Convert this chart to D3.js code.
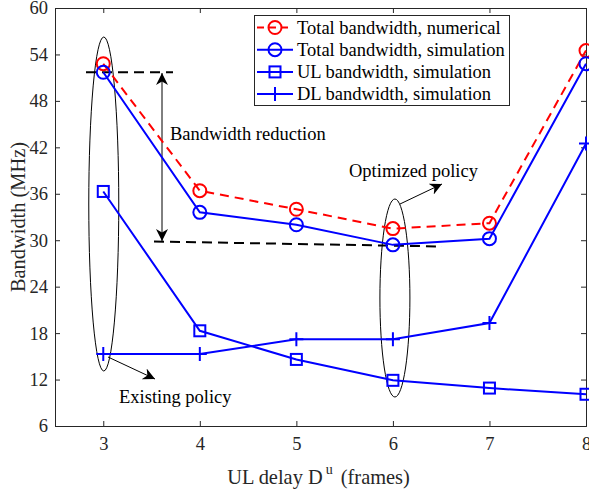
<!DOCTYPE html>
<html><head><meta charset="utf-8">
<script src="https://cdn.jsdelivr.net/npm/d3@7"></script>
<style>body{margin:0;background:#fff}svg{display:block}text{font-family:"Liberation Serif","Times New Roman",serif}</style>
</head><body><svg id="c" width="589" height="491"></svg>
<script>
const delays = [3, 4, 5, 6, 7, 8];
const totalNumerical = [52.8, 36.4, 34.0, 31.5, 32.2, 54.5];
const totalSimulation = [51.7, 33.6, 32.0, 29.4, 30.2, 52.8];
const ulSimulation = [36.3, 18.3, 14.6, 11.9, 10.9, 10.1];
const dlSimulation = [15.3, 15.3, 17.2, 17.2, 19.3, 42.5];
const yTicks = [6, 12, 18, 24, 30, 36, 42, 48, 54, 60];
const xTicks = [3, 4, 5, 6, 7, 8];
const legendLabels = ["Total bandwidth, numerical", "Total bandwidth, simulation", "UL bandwidth, simulation", "DL bandwidth, simulation"];

const svg = d3.select("#c");
const L = 55, R = 586, T = 8, B = 426;
const x = d3.scaleLinear().domain([2.5, 8]).range([L, R]);
const y = d3.scaleLinear().domain([6, 60]).range([B, T]);
const axisCol = "#262626";
const FS = "18.5px", LFS = "20.4px";

// defs arrow
const defs = svg.append("defs");
defs.append("marker").attr("id", "ah").attr("viewBox", "0 0 10 10").attr("refX", 10).attr("refY", 5)
  .attr("markerWidth", 12).attr("markerHeight", 12).attr("markerUnits", "userSpaceOnUse").attr("orient", "auto-start-reverse")
  .append("path").attr("d", "M0,0 L10,5 L0,10 L3,5 Z").attr("fill", "#000");

// axes
const gx = svg.append("g").attr("transform", `translate(0,${B})`)
  .call(d3.axisBottom(x).tickValues(xTicks).tickSize(-5).tickPadding(11).tickFormat(d3.format("d")));
const gxt = svg.append("g").attr("transform", `translate(0,${T})`)
  .call(d3.axisTop(x).tickValues(xTicks).tickSize(-5).tickFormat(""));
const gy = svg.append("g").attr("transform", `translate(${L},0)`)
  .call(d3.axisLeft(y).tickValues(yTicks).tickSize(-5).tickPadding(7).tickFormat(d3.format("d")));
const gyr = svg.append("g").attr("transform", `translate(${R},0)`)
  .call(d3.axisRight(y).tickValues(yTicks).tickSize(-5).tickFormat(""));
[gx, gxt, gy, gyr].forEach(g => {
  g.select(".domain").attr("stroke", axisCol).attr("stroke-width", 1);
  g.selectAll(".tick line").attr("stroke", axisCol);
  g.selectAll("text").attr("fill", axisCol).style("font-size", FS).style("font-family", '"Liberation Serif",serif');
});

// axis labels
svg.append("text").attr("transform", `translate(25,${(T + B) / 2}) rotate(-90)`).attr("text-anchor", "middle")
  .style("font-size", LFS).attr("fill", axisCol).text("Bandwidth (MHz)");
const xl = svg.append("text").attr("x", (L + R) / 2 - 2).attr("y", 484).attr("text-anchor", "middle")
  .style("font-size", LFS).attr("fill", axisCol);
xl.append("tspan").text("UL delay D");
xl.append("tspan").attr("dx", 3).attr("dy", -10).style("font-size", "14px").text("u");
xl.append("tspan").attr("dx", 3).attr("dy", 10).text(" (frames)");

// annotations: ellipses
function ellipse(cx, cy, rx, ry) {
  svg.append("ellipse").attr("cx", cx).attr("cy", cy).attr("rx", rx).attr("ry", ry)
    .attr("fill", "none").attr("stroke", "#000").attr("stroke-width", 1);
}
ellipse(x(3) + 0.5, 204, 15, 167);
ellipse(x(6) + 2, 298, 15, 99);

// dashed reference lines
svg.append("line").attr("x1", 86).attr("y1", y(51.7)).attr("x2", 173).attr("y2", y(51.7))
  .attr("stroke", "#000").attr("stroke-width", 2).attr("stroke-dasharray", "10,6");
svg.append("line").attr("x1", 154).attr("y1", 241.5).attr("x2", 442).attr("y2", 246.5)
  .attr("stroke", "#000").attr("stroke-width", 2).attr("stroke-dasharray", "10,6");

// double arrow
svg.append("line").attr("x1", 162).attr("y1", 73).attr("x2", 162).attr("y2", 241)
  .attr("stroke", "#000").attr("stroke-width", 1)
  .attr("marker-start", "url(#ah)").attr("marker-end", "url(#ah)");
// other arrows
svg.append("line").attr("x1", 400).attr("y1", 204).attr("x2", 442).attr("y2", 184)
  .attr("stroke", "#000").attr("stroke-width", 1).attr("marker-end", "url(#ah)");
svg.append("line").attr("x1", 108).attr("y1", 357).attr("x2", 155).attr("y2", 379)
  .attr("stroke", "#000").attr("stroke-width", 1).attr("marker-end", "url(#ah)");

svg.append("text").attr("x", 170).attr("y", 140).style("font-size", FS).attr("fill", "#000").text("Bandwidth reduction");
svg.append("text").attr("x", 349).attr("y", 177).style("font-size", FS).attr("fill", "#000").text("Optimized policy");
svg.append("text").attr("x", 119).attr("y", 403).style("font-size", FS).attr("fill", "#000").text("Existing policy");

// series
const series = [
  {vals: totalNumerical, color: "#ff0000", dash: "9,6", marker: "circle"},
  {vals: totalSimulation, color: "#0000ff", dash: null, marker: "circle"},
  {vals: ulSimulation, color: "#0000ff", dash: null, marker: "square"},
  {vals: dlSimulation, color: "#0000ff", dash: null, marker: "plus"}
];
const line = d3.line().x(d => x(d[0])).y(d => y(d[1]));
function drawMarker(g, type, cx, cy, color) {
  if (type === "circle") g.append("circle").attr("cx", cx).attr("cy", cy).attr("r", 6.5).attr("fill", "none").attr("stroke", color).attr("stroke-width", 2);
  else if (type === "square") g.append("rect").attr("x", cx - 5.5).attr("y", cy - 5.5).attr("width", 11).attr("height", 11).attr("fill", "none").attr("stroke", color).attr("stroke-width", 2);
  else g.append("path").attr("d", `M${cx - 7},${cy}H${cx + 7}M${cx},${cy - 7}V${cy + 7}`).attr("stroke", color).attr("stroke-width", 2);
}
series.forEach(s => {
  const pts = delays.map((d, i) => [d, s.vals[i]]);
  svg.append("path").datum(pts).attr("d", line).attr("fill", "none").attr("stroke", s.color).attr("stroke-width", 2)
    .attr("stroke-dasharray", s.dash);
  const g = svg.append("g");
  pts.forEach(p => drawMarker(g, s.marker, x(p[0]), y(p[1]), s.color));
});

// legend
const lg = svg.append("g");
lg.append("rect").attr("x", 254.5).attr("y", 15.5).attr("width", 255).attr("height", 90).attr("fill", "#fff").attr("stroke", axisCol).attr("stroke-width", 1);
legendLabels.forEach((lab, i) => {
  const cy = 27.5 + i * 22.2;
  const s = series[i];
  lg.append("line").attr("x1", 257).attr("x2", 293).attr("y1", cy).attr("y2", cy).attr("stroke", s.color).attr("stroke-width", 2)
    .attr("stroke-dasharray", s.dash ? "7,5" : null);
  drawMarker(lg, s.marker, 275, cy, s.color);
  lg.append("text").attr("x", 297).attr("y", cy + 6).style("font-size", FS).attr("fill", "#000").text(lab);
});
</script></body></html>
